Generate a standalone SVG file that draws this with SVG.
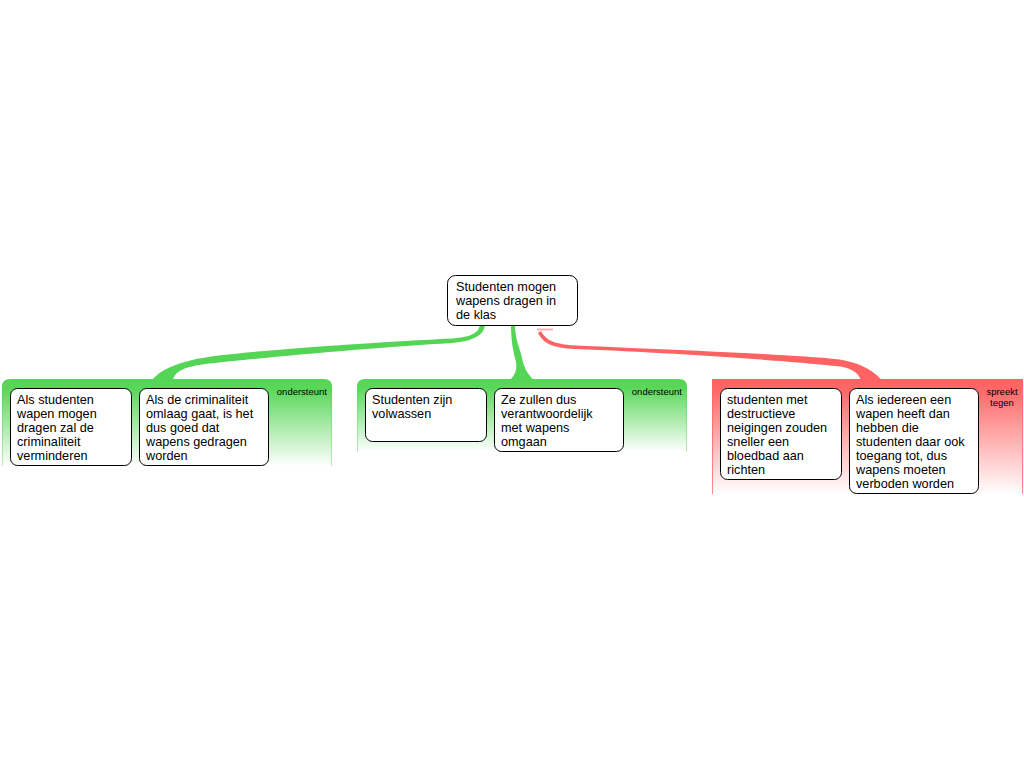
<svg xmlns="http://www.w3.org/2000/svg" width="1024" height="768" viewBox="0 0 1024 768">
<defs>
<linearGradient id="gFill" x1="0" y1="0" x2="0" y2="1">
<stop offset="0" stop-color="#55d555"/>
<stop offset="0.12" stop-color="#5ad75a"/>
<stop offset="1" stop-color="#ffffff"/>
</linearGradient>
<linearGradient id="gSide" x1="0" y1="0" x2="0" y2="1">
<stop offset="0" stop-color="#55d555"/>
<stop offset="1" stop-color="#b8ecb8"/>
</linearGradient>
<linearGradient id="rFill" x1="0" y1="0" x2="0" y2="1">
<stop offset="0" stop-color="#ff6262"/>
<stop offset="0.1" stop-color="#ff6868"/>
<stop offset="1" stop-color="#ffffff"/>
</linearGradient>
<linearGradient id="rSide" x1="0" y1="0" x2="0" y2="1">
<stop offset="0" stop-color="#ff6262"/>
<stop offset="1" stop-color="#ff8a8a"/>
</linearGradient>
<style>
.node rect{fill:#fff;stroke:#000;stroke-width:1}
.t{font-family:"Liberation Sans",Arial,sans-serif;font-size:12.7px;fill:#000}
.lbl{font-family:"Liberation Sans",Arial,sans-serif;font-size:9.5px;fill:#000}
.gbox{fill:url(#gFill)}
.gside{fill:none;stroke:url(#gSide);stroke-width:1}
.rbox{fill:url(#rFill)}
.rside{fill:none;stroke:url(#rSide);stroke-width:1}
</style>
</defs>
<rect width="1024" height="768" fill="#fff"/>

<g id="group-pro1">
<path class="gbox" d="M2,466 V387 Q2,379 10,379 H324 Q332,379 332,387 V466 Z"/>
<path class="gside" d="M2.5,466 V387 M331.5,387 V466"/>
<text class="lbl" x="327" y="395" text-anchor="end">ondersteunt</text>
</g>
<g id="group-pro2">
<path class="gbox" d="M357,452 V387 Q357,379 365,379 H679 Q687,379 687,387 V452 Z"/>
<path class="gside" d="M357.5,452 V387 M686.5,387 V452"/>
<text class="lbl" x="682" y="395" text-anchor="end">ondersteunt</text>
</g>
<g id="group-con">
<path class="rbox" d="M712,494 V379 H1023 V494 Z"/>
<path class="rside" d="M712.5,494 V379 M1022.5,379 V494"/>
<text class="lbl" x="1002" y="395" text-anchor="middle">spreekt</text>
<text class="lbl" x="1002" y="406" text-anchor="middle">tegen</text>
</g>

<g id="connectors">
<path fill="#55d555" d="M480,325 C478,334 470,337 452,338.5 C380,342 260,350 215,356 C185,360 163,367 152,380 L173,380 C175,372 182,366 215,363 C260,358 380,347 452,343 C474,341 484,335 485,325 Z"/>
<path fill="#55d555" d="M511,325 C511,340 513,350 515,358 C518,368 516,374 510,380 L534,380 C527,374 524,367 522,358 C520,348 515,340 515,325 Z"/>
<line x1="537" y1="329.5" x2="553" y2="329.5" stroke="#ffb0b0" stroke-width="2"/>
<path fill="#ff6262" d="M541,331 C546,340 553,344 575,345.5 C680,350 800,355 835,359 C860,362 872,370 882,380 L861,380 C858,372 850,367 835,366 C800,362 680,353 575,349 C552,348 543,343 538,333 Z"/>
</g>

<g id="root" class="node">
<rect x="447.5" y="275.5" width="130" height="50" rx="8"/>
<text class="t" x="456" y="291">Studenten mogen</text>
<text class="t" x="456" y="305">wapens dragen in</text>
<text class="t" x="456" y="319">de klas</text>
</g>

<g id="n1" class="node">
<rect x="10.5" y="388.5" width="121" height="77" rx="7"/>
<text class="t" x="17" y="404">Als studenten</text>
<text class="t" x="17" y="418">wapen mogen</text>
<text class="t" x="17" y="432">dragen zal de</text>
<text class="t" x="17" y="446">criminaliteit</text>
<text class="t" x="17" y="460">verminderen</text>
</g>

<g id="n2" class="node">
<rect x="139.5" y="388.5" width="129" height="77" rx="7"/>
<text class="t" x="146" y="404">Als de criminaliteit</text>
<text class="t" x="146" y="418">omlaag gaat, is het</text>
<text class="t" x="146" y="432">dus goed dat</text>
<text class="t" x="146" y="446">wapens gedragen</text>
<text class="t" x="146" y="460">worden</text>
</g>

<g id="n3" class="node">
<rect x="365.5" y="388.5" width="121" height="53" rx="7"/>
<text class="t" x="372" y="404">Studenten zijn</text>
<text class="t" x="372" y="418">volwassen</text>
</g>

<g id="n4" class="node">
<rect x="494.5" y="388.5" width="129" height="63" rx="7"/>
<text class="t" x="501" y="404">Ze zullen dus</text>
<text class="t" x="501" y="418">verantwoordelijk</text>
<text class="t" x="501" y="432">met wapens</text>
<text class="t" x="501" y="446">omgaan</text>
</g>

<g id="n5" class="node">
<rect x="720.5" y="388.5" width="121" height="91" rx="7"/>
<text class="t" x="727" y="404">studenten met</text>
<text class="t" x="727" y="418">destructieve</text>
<text class="t" x="727" y="432">neigingen zouden</text>
<text class="t" x="727" y="446">sneller een</text>
<text class="t" x="727" y="460">bloedbad aan</text>
<text class="t" x="727" y="474">richten</text>
</g>

<g id="n6" class="node">
<rect x="849.5" y="388.5" width="129" height="105" rx="7"/>
<text class="t" x="856" y="404">Als iedereen een</text>
<text class="t" x="856" y="418">wapen heeft dan</text>
<text class="t" x="856" y="432">hebben die</text>
<text class="t" x="856" y="446">studenten daar ook</text>
<text class="t" x="856" y="460">toegang tot, dus</text>
<text class="t" x="856" y="474">wapens moeten</text>
<text class="t" x="856" y="488">verboden worden</text>
</g>
</svg>
